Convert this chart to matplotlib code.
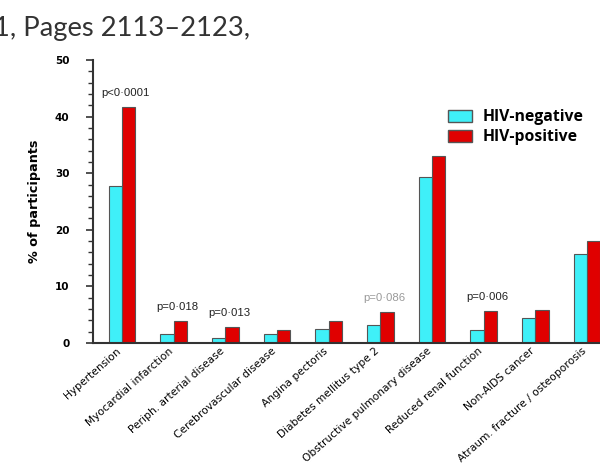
import numpy as np
import matplotlib
matplotlib.use('Agg')
from matplotlib import pyplot as plt
from matplotlib.patches import Patch
from matplotlib.ticker import MultipleLocator
from matplotlib.transforms import ScaledTranslation

conditions = ['Hypertension', 'Myocardial infarction', 'Periph. arterial disease',
              'Cerebrovascular disease', 'Angina pectoris', 'Diabetes mellitus type 2',
              'Obstructive pulmonary disease', 'Reduced renal function', 'Non-AIDS cancer',
              'Atraum. fracture / osteoporosis']
hiv_negative = [27.7, 1.5, 0.8, 1.5, 2.5, 3.2, 29.4, 2.3, 4.4, 15.8]
hiv_positive = [41.7, 3.9, 2.8, 2.3, 3.9, 5.4, 33.0, 5.6, 5.9, 18.0]
p_values = {0: 'p<0·0001', 1: 'p=0·018', 2: 'p=0·013', 5: 'p=0·086', 7: 'p=0·006'}
p_grey = [5]

CYAN = '#3ff0f8'
RED = '#e00000'
EDGE = '#555555'

fig = plt.figure(figsize=(6, 4.65), dpi=100)
ax = fig.add_axes([0.155, 0.2624, 0.875, 0.6086])

x = np.arange(len(conditions))
w = 0.26
ax.bar(x - w / 2, hiv_negative, w, color=CYAN, edgecolor=EDGE, linewidth=0.8)
ax.bar(x + w / 2, hiv_positive, w, color=RED, edgecolor=EDGE, linewidth=0.8)

# p-values sit just above the taller bar of each group
for i, label in p_values.items():
    top = max(hiv_negative[i], hiv_positive[i])
    ax.text(i + 0.07, top + 2.5, label, ha='center', va='center',
            fontsize=8.2, family='Liberation Sans',
            color='#999999' if i in p_grey else '#222222')

ax.set_xlim(-0.56, 9.6)
ax.set_ylim(0, 50)
ax.yaxis.set_major_locator(MultipleLocator(10))
ax.yaxis.set_minor_locator(MultipleLocator(2))
ax.tick_params(axis='y', which='major', length=5, width=1.2, color='#333333', pad=12)
ax.tick_params(axis='y', which='minor', length=3.5, width=1.0, color='#333333')
ax.tick_params(axis='x', length=0, pad=2)
for lbl in ax.get_yticklabels():
    lbl.set_fontweight('bold')
    lbl.set_fontsize(7.5)
    lbl.set_family('DejaVu Sans')

ax.set_xticks(x)
ax.set_xticklabels(conditions, rotation=41.5, ha='right', rotation_mode='anchor',
                   fontsize=7.7, family='DejaVu Sans', color='#000000')
shift = ScaledTranslation(-4 / 72, 0, fig.dpi_scale_trans)
for lbl in ax.get_xticklabels():
    lbl.set_transform(lbl.get_transform() + shift)

ax.set_ylabel('% of participants', fontsize=9.2, fontweight='bold', family='DejaVu Sans')
ax.yaxis.set_label_coords(-0.099, 0.5)

for side in ['top', 'right']:
    ax.spines[side].set_visible(False)
for side in ['left', 'bottom']:
    ax.spines[side].set_color('#333333')
    ax.spines[side].set_linewidth(1.5)

handles = [Patch(facecolor=CYAN, edgecolor=EDGE, label='HIV-negative'),
           Patch(facecolor=RED, edgecolor=EDGE, label='HIV-positive')]
fig.legend(handles=handles, loc='upper left', bbox_to_anchor=(448 / 600, 1 - 109 / 465),
           frameon=False, borderpad=0, borderaxespad=0, handlelength=1.53, handleheight=0.8,
           handletextpad=0.7, labelspacing=0.27,
           prop={'family': 'Open Sans', 'weight': 'bold', 'size': 11.3})

fig.text(-0.010, 1 - 36 / 465, '1, Pages 2113–2123,', fontsize=19.7, family='Lato',
         color='#333333', va='baseline', ha='left')

fig.savefig('out.png', dpi=100)
